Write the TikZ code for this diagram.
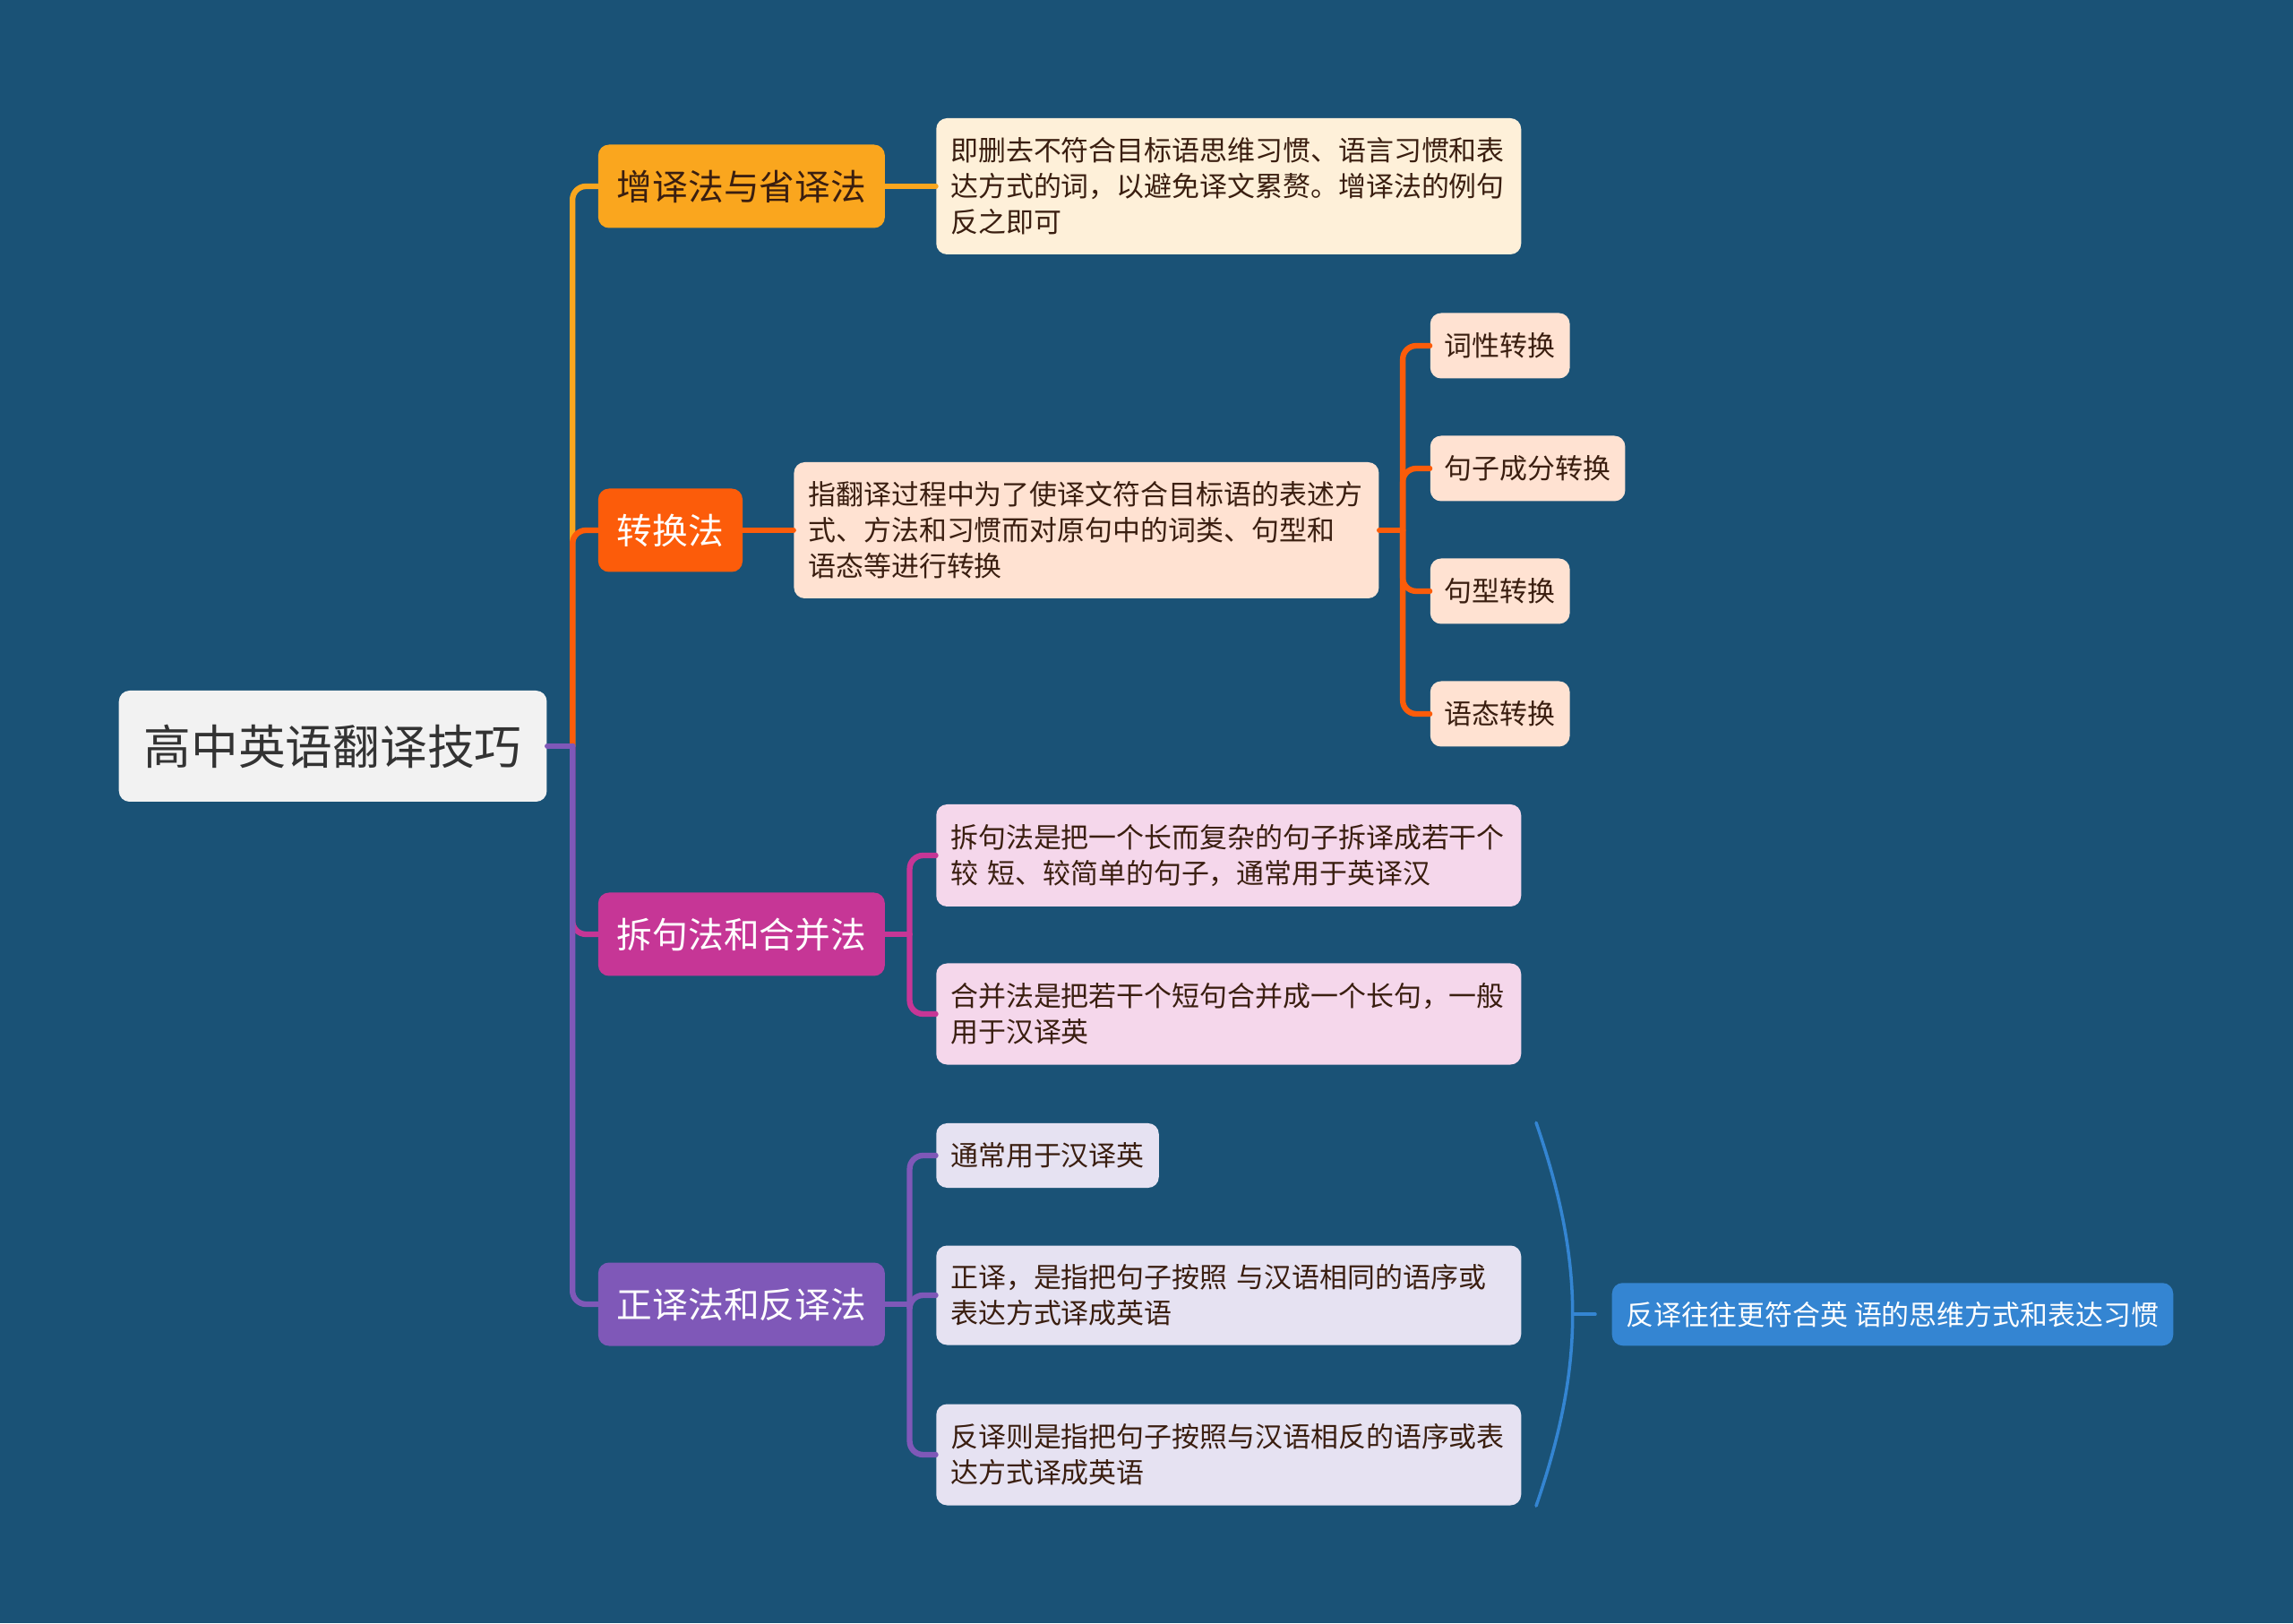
\documentclass[tikz,border=0pt]{standalone}
\usepackage{fontspec}
\setmainfont{Noto Sans CJK SC}
\usepackage{xcolor}
\usetikzlibrary{positioning,calc}

\definecolor{bgblue}{RGB}{26,82,118}
\definecolor{rootfill}{RGB}{242,242,242}
\definecolor{zengcol}{RGB}{250,166,30}
\definecolor{zhuancol}{RGB}{252,92,10}
\definecolor{chaicol}{RGB}{198,54,150}
\definecolor{zhengcol}{RGB}{127,88,184}
\definecolor{sumcol}{RGB}{52,133,210}
\definecolor{zengpale}{RGB}{254,240,217}
\definecolor{zhuanpale}{RGB}{255,226,210}
\definecolor{chaipale}{RGB}{245,215,235}
\definecolor{zhengpale}{RGB}{230,226,242}
\definecolor{darktext}{RGB}{51,51,51}
\definecolor{browntext}{RGB}{58,30,16}

\begin{document}
\begin{tikzpicture}[node distance=0.56cm,line cap=round]
\tikzstyle{basebox}=[rounded corners=0.12cm,inner ysep=0.05cm,anchor=west]
\tikzstyle{rootbox}=[basebox,fill=rootfill,text=darktext,inner xsep=0.28cm,minimum height=1.24cm,font=\fontsize{15}{18}\selectfont]
\tikzstyle{topicbox}=[basebox,text=white,inner xsep=0.21cm,minimum height=0.93cm,font=\fontsize{11.3}{13.5}\selectfont]
\tikzstyle{notebox}=[basebox,text=browntext,inner xsep=0.16cm,font=\fontsize{8.8}{11.4}\selectfont]
\tikzstyle{parabox}=[notebox,text width=6.21cm,align=left]
\tikzstyle{branch}=[line width=1.8pt,rounded corners=0.15cm]

\fill[bgblue] (0,0) rectangle (25.6,18.12);
\useasboundingbox (0,0) rectangle (25.6,18.12);

\node[rootbox] (root) at (1.32,9.79) {高中英语翻译技巧};

\node[topicbox,fill=zengcol,text=browntext] (zeng) [right=of root,yshift=6.25cm] {增译法与省译法};
\node[topicbox,fill=zhuancol] (zhuan) [right=of root,yshift=2.41cm] {转换法};
\node[topicbox,fill=chaicol] (chai) [right=of root,yshift=-2.10cm] {拆句法和合并法};
\node[topicbox,fill=zhengcol] (zheng) [right=of root,yshift=-6.23cm] {正译法和反译法};

\node[parabox,fill=zengpale,minimum height=1.52cm] (zengnote) [right=of zeng]
  {即删去不符合目标语思维习惯、语言习惯和表\\达方式的词，以避免译文累赘。增译法的例句\\反之即可};

\node[parabox,fill=zhuanpale,minimum height=1.52cm] (zhuannote) [right=of zhuan]
  {指翻译过程中为了使译文符合目标语的表述方\\式、方法和习惯而对原句中的词类、句型和\\语态等进行转换};
\node[notebox,fill=zhuanpale,minimum height=0.73cm] (cixing) [right=of zhuannote,yshift=2.06cm] {词性转换};
\node[notebox,fill=zhuanpale,minimum height=0.73cm] (chengfen) [right=of zhuannote,yshift=0.69cm] {句子成分转换};
\node[notebox,fill=zhuanpale,minimum height=0.73cm] (juxing) [right=of zhuannote,yshift=-0.68cm] {句型转换};
\node[notebox,fill=zhuanpale,minimum height=0.73cm] (yutai) [right=of zhuannote,yshift=-2.05cm] {语态转换};

\node[parabox,fill=chaipale,minimum height=1.14cm] (chaiju) [right=of chai,yshift=0.88cm]
  {拆句法是把一个长而复杂的句子拆译成若干个\\较 短、较简单的句子，通常用于英译汉};
\node[parabox,fill=chaipale,minimum height=1.13cm] (hebing) [right=of chai,yshift=-0.89cm]
  {合并法是把若干个短句合并成一个长句，一般\\用于汉译英};

\node[notebox,fill=zhengpale,minimum height=0.72cm] (tongchang) [right=of zheng,yshift=1.66cm] {通常用于汉译英};
\node[parabox,fill=zhengpale,minimum height=1.11cm] (zhengyi) [right=of zheng,yshift=0.10cm]
  {正译，是指把句子按照 与汉语相同的语序或\\表达方式译成英语};
\node[parabox,fill=zhengpale,minimum height=1.13cm] (fanyi) [right=of zheng,yshift=-1.68cm]
  {反译则是指把句子按照与汉语相反的语序或表\\达方式译成英语};

\coordinate (bracetop) at ($(zhengyi.east |- tongchang.north)+(0.16,0)$);
\coordinate (bracebot) at ($(zhengyi.east |- fanyi.south)+(0.16,0)$);
\coordinate (bracetip) at ($(bracetop)!0.5!(bracebot)+(0.41,0)$);
\node[notebox,fill=sumcol,text=white,minimum height=0.70cm] (summary) [right=0.43cm of bracetip] {反译往往更符合英 语的思维方式和表达习惯};

\coordinate[right=0.28cm of root.east] (trunk);
\coordinate[right=0.26cm of zhuannote.east] (zhuanjoint);
\coordinate[right=0.27cm of chai.east] (chaijoint);
\coordinate[right=0.27cm of zheng.east] (zhengjoint);

\draw[branch,zengcol] (trunk) |- (zeng.west);
\draw[branch,zhuancol] (trunk) |- (zhuan.west);
\draw[branch,chaicol] (trunk) |- (chai.west);
\draw[branch,zhengcol] (trunk) |- (zheng.west);
\draw[branch,zhengcol] (root.east) -- (trunk);

\draw[branch,zengcol] (zeng.east) -- (zengnote.west);
\draw[branch,zhuancol] (zhuan.east) -- (zhuannote.west);

\draw[branch,zhuancol] (zhuannote.east) -- (zhuanjoint);
\foreach \leaf in {cixing,chengfen,juxing,yutai}
  \draw[branch,zhuancol] (zhuanjoint) |- (\leaf.west);

\draw[branch,chaicol] (chai.east) -- (chaijoint);
\foreach \leaf in {chaiju,hebing}
  \draw[branch,chaicol] (chaijoint) |- (\leaf.west);

\draw[branch,zhengcol] (zheng.east) -- (zhengjoint);
\foreach \leaf in {tongchang,zhengyi,fanyi}
  \draw[branch,zhengcol] (zhengjoint) |- (\leaf.west);

\draw[sumcol,line width=1pt] (bracetop) to[bend left=19] (bracebot);
\draw[sumcol,line width=1pt,shorten >=0.18cm] (bracetip) -- (summary.west);
\end{tikzpicture}
\end{document}
